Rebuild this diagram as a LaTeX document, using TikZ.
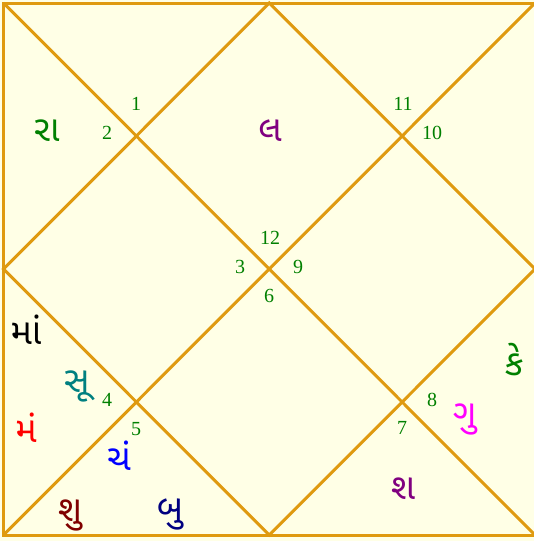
\documentclass[tikz,border=0pt]{standalone}
\usepackage{fontspec}
\setmainfont{Liberation Serif}
\newfontfamily\gujfont[Script=Gujarati]{Noto Sans Gujarati UI}
\definecolor{chartbg}{HTML}{FFFFE6}
\definecolor{chartline}{HTML}{DF9A10}
\definecolor{numgreen}{HTML}{008000}
\definecolor{plpurple}{HTML}{800080}
\definecolor{plteal}{HTML}{008080}
\definecolor{plmaroon}{HTML}{800000}
\definecolor{plnavy}{HTML}{000080}
\definecolor{plmagenta}{HTML}{FF00FF}

\begin{document}
\begin{tikzpicture}[x=1pt, y=-1pt,
    grid/.style={draw=chartline, line width=3pt},
    num/.style={font=\fontsize{20}{20}\selectfont, text=numgreen, inner sep=0pt},
    planet/.style={font=\gujfont\fontsize{36}{36}\selectfont, inner sep=0pt},
]
% background and frame
\fill[chartbg] (0,0) rectangle (534,541);
\useasboundingbox (0,0) rectangle (534,541);
\coordinate (tl) at (3.5,3);
\coordinate (tr) at (535,3);
\coordinate (bl) at (3.5,535);
\coordinate (br) at (535,535);
\coordinate (tm) at (269.25,3);
\coordinate (bm) at (269.25,535);
\coordinate (lm) at (3.5,269);
\coordinate (rm) at (535,269);

\draw[grid] (tl) rectangle (br);
\draw[grid] (tl) -- (br);
\draw[grid] (tr) -- (bl);
\draw[grid] (tm) -- (rm) -- (bm) -- (lm) -- cycle;

% house numbers
\foreach \n/\x/\y in {1/136/104, 2/107/133, 11/403/104, 10/432/133,
                      12/270/238, 3/240/267, 9/298/267, 6/269/296,
                      4/107/400, 5/136/429, 8/432/400, 7/402/428} {
  \node[num] (h\n) at (\x,\y) {\n};
}

% planets
\node[planet, text=numgreen] (ra) at (47,131) {રા};
\node[planet, text=plpurple] (la) at (270,131) {લ};
\node[planet, text=black] (maa) at (26,330) {માં};
\node[planet, text=plteal] (su) at (77,386) {સૂ};
\node[planet, text=red] (man) at (26,428) {મં};
\node[planet, text=blue] (chan) at (119,456) {ચં};
\node[planet, text=plmaroon] (shu) at (70,515) {શુ};
\node[planet, text=plnavy] (bu) at (170,514) {બુ};
\node[planet, text=numgreen] (ke) at (514,360) {કે};
\node[planet, text=plmagenta] (gu) at (465,419) {ગુ};
\node[planet, text=plpurple] (sha) at (403,489) {શ};

\end{tikzpicture}
\end{document}
